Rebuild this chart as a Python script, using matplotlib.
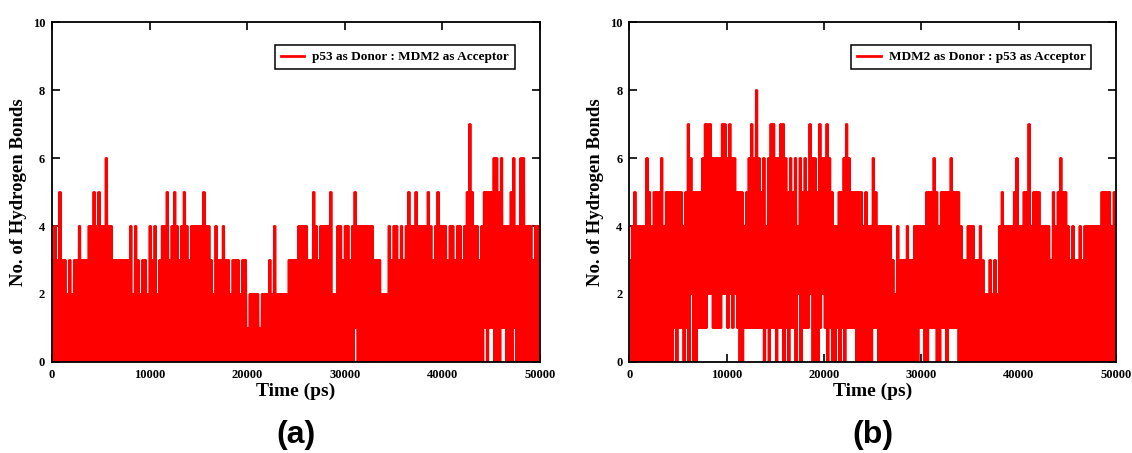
import matplotlib

matplotlib.use("Agg")
import matplotlib.pyplot as plt  # noqa: E402
import numpy as np  # noqa: E402

plt.rcParams["font.family"] = ["Liberation Serif", "DejaVu Serif"]
plt.rcParams["font.weight"] = "bold"

# Each bin: highest count (upper) and lowest count (lower) seen in that bin.
BIN_PS = 250
TIME_TICKS = [0, 10000, 20000, 30000, 40000, 50000]
HB_TICKS = [0, 2, 4, 6, 8, 10]

A_LABEL = "p53 as Donor : MDM2 as Acceptor"
A_UPPER = [
    3, 4, 3, 5, 3, 3, 2, 3, 2, 3, 3, 4, 3, 3, 3, 4, 4, 5, 4, 5,   # 0-5 ns
    4, 4, 6, 4, 4, 3, 3, 3, 3, 3, 3, 3, 4, 2, 4, 3, 2, 3, 3, 2,
    4, 3, 4, 2, 3, 4, 4, 5, 3, 4, 5, 4, 3, 4, 5, 4, 3, 4, 4, 4,
    4, 4, 5, 4, 4, 3, 2, 4, 3, 3, 4, 3, 3, 2, 3, 3, 3, 2, 3, 3,
    1, 2, 2, 2, 2, 1, 2, 2, 2, 3, 2, 4, 2, 2, 2, 2, 2, 3, 3, 3,
    3, 4, 4, 4, 4, 3, 3, 5, 4, 3, 4, 4, 4, 4, 5, 2, 2, 4, 4, 3,
    4, 4, 3, 4, 5, 4, 4, 4, 4, 4, 4, 4, 3, 3, 3, 2, 2, 2, 4, 3,
    4, 4, 3, 4, 3, 4, 5, 4, 4, 5, 4, 4, 4, 4, 5, 4, 3, 4, 5, 4,
    4, 4, 3, 4, 4, 3, 4, 4, 3, 4, 5, 7, 5, 4, 4, 3, 4, 5, 5, 5,
    5, 6, 6, 5, 6, 4, 4, 4, 5, 6, 4, 4, 6, 6, 4, 4, 4, 3, 4, 4,   # 45-50 ns
]
A_LOWER = [
    0, 0, 0, 0, 0, 0, 0, 0, 0, 0, 0, 0, 0, 0, 0, 0, 0, 0, 0, 0,
    0, 0, 0, 0, 0, 0, 0, 0, 0, 0, 0, 0, 0, 0, 0, 0, 0, 0, 0, 0,
    0, 0, 0, 0, 0, 0, 0, 0, 0, 0, 0, 0, 0, 0, 0, 0, 0, 0, 0, 0,
    0, 0, 0, 0, 0, 0, 0, 0, 0, 0, 0, 0, 0, 0, 0, 0, 0, 0, 0, 0,
    0, 0, 0, 0, 0, 0, 0, 0, 0, 0, 0, 0, 0, 0, 0, 0, 0, 0, 0, 0,
    0, 0, 0, 0, 0, 0, 0, 0, 0, 0, 0, 0, 0, 0, 0, 0, 0, 0, 0, 0,
    0, 0, 0, 0, 1, 0, 0, 0, 0, 0, 0, 0, 0, 0, 0, 0, 0, 0, 0, 0,
    0, 0, 0, 0, 0, 0, 0, 0, 0, 0, 0, 0, 0, 0, 0, 0, 0, 0, 0, 0,
    0, 0, 0, 0, 0, 0, 0, 0, 0, 0, 0, 0, 0, 0, 0, 0, 0, 1, 0, 1,
    1, 0, 0, 0, 1, 1, 0, 0, 0, 1, 0, 0, 0, 0, 0, 0, 0, 0, 0, 0,
]

B_LABEL = "MDM2 as Donor : p53 as Acceptor"
B_UPPER = [
    3, 4, 5, 4, 4, 4, 4, 6, 5, 4, 5, 5, 5, 6, 4, 5, 5, 5, 5, 5,
    5, 5, 4, 5, 7, 6, 5, 5, 5, 5, 6, 7, 7, 7, 6, 6, 6, 6, 7, 7,
    6, 7, 6, 6, 5, 5, 5, 4, 5, 6, 7, 6, 8, 6, 5, 6, 4, 6, 7, 7,
    6, 6, 7, 7, 6, 5, 6, 5, 6, 4, 6, 5, 6, 5, 7, 6, 6, 5, 7, 6,
    6, 7, 6, 5, 4, 4, 5, 5, 6, 7, 6, 5, 5, 5, 5, 5, 4, 5, 4, 4,
    6, 5, 4, 4, 4, 4, 4, 4, 3, 2, 4, 3, 3, 3, 4, 3, 3, 4, 4, 4,
    4, 4, 5, 5, 5, 6, 5, 4, 5, 5, 5, 5, 6, 5, 5, 5, 4, 3, 3, 4,
    4, 4, 3, 3, 4, 3, 2, 2, 3, 2, 3, 2, 4, 5, 4, 4, 4, 4, 5, 6,
    4, 4, 5, 5, 7, 4, 5, 5, 5, 4, 4, 4, 4, 3, 5, 4, 5, 6, 5, 5,
    4, 3, 4, 3, 3, 4, 3, 4, 4, 4, 4, 4, 4, 4, 5, 5, 5, 5, 4, 5,
]
B_LOWER = [
    0, 0, 0, 0, 0, 0, 0, 0, 0, 0, 0, 0, 0, 0, 0, 0, 0, 0, 1, 0,
    1, 1, 0, 1, 0, 2, 0, 0, 1, 1, 1, 1, 2, 2, 1, 1, 1, 1, 2, 2,
    1, 2, 1, 2, 1, 0, 0, 1, 1, 1, 1, 1, 1, 1, 1, 0, 1, 0, 1, 1,
    0, 1, 1, 0, 1, 0, 1, 1, 0, 2, 0, 1, 1, 1, 2, 0, 0, 0, 1, 2,
    1, 0, 1, 0, 0, 1, 0, 1, 0, 1, 1, 1, 1, 0, 0, 0, 0, 0, 0, 0,
    1, 1, 0, 0, 0, 0, 0, 0, 0, 0, 0, 0, 0, 0, 0, 0, 0, 0, 0, 1,
    1, 0, 0, 1, 1, 1, 0, 0, 1, 1, 0, 1, 1, 1, 1, 0, 0, 0, 0, 0,
    0, 0, 0, 0, 0, 0, 0, 0, 0, 0, 0, 0, 0, 0, 0, 0, 0, 0, 0, 0,
    0, 0, 0, 0, 0, 0, 0, 0, 0, 0, 0, 0, 0, 0, 0, 0, 0, 0, 0, 0,
    0, 0, 0, 0, 0, 0, 0, 0, 0, 0, 0, 0, 0, 0, 0, 0, 0, 0, 0, 0,
]


def frames(upper, lower, per_bin=4):
    """Frames swing between the bin max and min, like the dense MD trace."""
    y = np.column_stack([upper, lower] * (per_bin // 2)).ravel()
    t = np.arange(len(y)) * (BIN_PS / per_bin)
    return t, y


fig = plt.figure(figsize=(11.32, 4.53), dpi=100, facecolor="white")
ax_a = fig.add_axes([0.046, 0.201, 0.431, 0.750])
ax_b = fig.add_axes([0.556, 0.201, 0.430, 0.750])

panels = [(ax_a, A_UPPER, A_LOWER, A_LABEL, "(a)"),
          (ax_b, B_UPPER, B_LOWER, B_LABEL, "(b)")]

for ax, up, lo, label, tag in panels:
    t, y = frames(up, lo)
    ax.plot(t, y, color="#ff0000", lw=1.4, label=label)
    ax.set_xlim(0, 50000)
    ax.set_ylim(0, 10)
    ax.set_xticks(TIME_TICKS)
    ax.set_yticks(HB_TICKS)
    ax.tick_params(direction="in", length=6, width=1.2, top=True, right=True,
                   labelsize=9, pad=5)
    for lab in ax.get_xticklabels() + ax.get_yticklabels():
        lab.set_fontweight("bold")
    for s in ax.spines.values():
        s.set_linewidth(1.3)
    ax.set_xlabel("Time (ps)", fontsize=14, fontweight="bold", labelpad=1)
    ax.set_ylabel("No. of Hydrogen Bonds", fontsize=13.5, fontweight="bold",
                  labelpad=4)
    leg = ax.legend(loc="upper right", bbox_to_anchor=(0.949, 0.933),
                    borderaxespad=0, fancybox=False, edgecolor="black",
                    framealpha=1, fontsize=9.5, handlelength=1.8,
                    handletextpad=0.6, borderpad=0.45)
    leg.get_frame().set_linewidth(1.1)
    for txt in leg.get_texts():
        txt.set_fontweight("bold")
    for h in leg.get_lines():
        h.set_linewidth(2.0)
    ax.text(0.5, -0.215, tag, transform=ax.transAxes, ha="center",
            va="center", fontsize=23, fontweight="bold",
            family="Liberation Sans")

fig.savefig("out.png", dpi=100, facecolor="white")
